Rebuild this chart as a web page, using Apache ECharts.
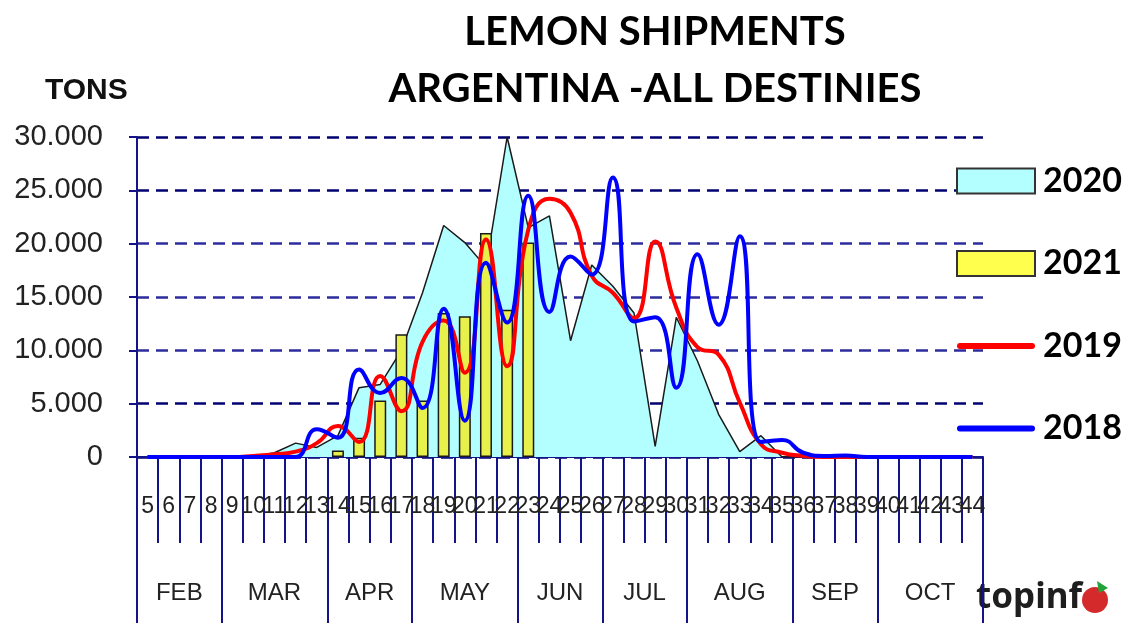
<!DOCTYPE html>
<html>
<head>
<meta charset="utf-8">
<script src="https://cdn.jsdelivr.net/npm/echarts@6/dist/echarts.min.js"></script>
<style>
    html, body { margin: 0; padding: 0; background: #fff; }
    #chart { width: 1125px; height: 623px; }
</style>
</head>
<body>
<div id="chart"></div>
<script>
// weeks 5..44
var weeks = ['5', '6', '7', '8', '9', '10', '11', '12', '13', '14', '15', '16', '17', '18', '19', '20',
    '21', '22', '23', '24', '25', '26', '27', '28', '29', '30', '31', '32', '33', '34', '35', '36',
    '37', '38', '39', '40', '41', '42', '43', '44']
var months = ['FEB', 'MAR', 'APR', 'MAY', 'JUN', 'JUL', 'AUG', 'SEP', 'OCT']
var monthWeeks = [4, 5, 4, 5, 4, 4, 5, 4, 5]
var yTicks = [0, 5000, 10000, 15000, 20000, 25000, 30000]

var ship2020 = [0, 0, 0, 0, 0, 0, 400, 1300, 900, 2000, 6500, 6800, 10000, 15400, 21700, 20100,
    17800, 30000, 21500, 22600, 10900, 18000, 16000, 13500, 1000, 13100, 9000, 4000, 500, 2000, 0, 0,
    0, 0, 0, 0, 0, 0, 0, 0]
var ship2021 = [null, null, null, null, null, null, null, null, null, 600, 1800, 5300, 11500, 5300, 13500, 13200,
    21000, 13800, 20100, null, null, null, null, null, null, null, null, null, null, null, null, null,
    null, null, null, null, null, null, null, null]
var ship2019 = [0, 0, 0, 0, 0, 100, 250, 500, 1300, 2900, 1400, 7600, 4300, 10800, 12800, 7900,
    20400, 8500, 21300, 24200, 22900, 17000, 15400, 13000, 20200, 14000, 10300, 9600, 5100, 1200, 400, 100,
    0, 0, 0, 0, 0, 0, 0, 0]
var ship2018 = [0, 0, 0, 0, 0, 0, 0, 0, 2600, 1800, 8200, 6000, 7400, 4600, 13900, 3400,
    18200, 12600, 24500, 13600, 18800, 17100, 26200, 12700, 13100, 6500, 19000, 12400, 20700, 1400, 1600, 400,
    100, 150, 0, 0, 0, 0, 0, 0]

// month separators and label positions on the week scale
var monthEdges = [0]
var monthCenters = []
monthWeeks.forEach(function (n, i) {
    var start = monthEdges[i]
    monthEdges.push(start + n)
    monthCenters.push(start + n / 2)
})

var navy = '#14148a'
// flat rounded bar used as legend icon for the line series
var lineIcon = 'path://M3,0 L75,0 A3,3 0 0 1 75,6 L3,6 A3,3 0 0 1 3,0 Z'

var myChart = echarts.init(document.getElementById('chart'))

myChart.setOption({
    animation: false,
    backgroundColor: '#fff',
    title: [
        {
            text: 'LEMON SHIPMENTS\nARGENTINA -ALL DESTINIES',
            left: 655,
            top: 4,
            padding: 0,
            textAlign: 'center',
            textStyle: { fontFamily: 'Lato', fontWeight: 'bold', fontSize: 40, lineHeight: 57, color: '#000' }
        },
        {
            text: 'TONS',
            left: 45,
            top: 76,
            padding: 0,
            textStyle: { fontFamily: 'Liberation Sans', fontWeight: 'bold', fontSize: 30, lineHeight: 30, color: '#111' }
        }
    ],
    legend: {
        orient: 'vertical',
        left: 956,
        top: 164,
        padding: 0,
        itemWidth: 78,
        itemHeight: 25,
        itemGap: 48.5,
        selectedMode: false,
        textStyle: { fontFamily: 'Lato', fontWeight: 'bold', fontSize: 34, lineHeight: 34, color: '#000', padding: [0, 0, 0, 3] },
        data: [
            { name: '2020', icon: 'rect', itemStyle: { color: '#b3ffff', borderColor: '#333', borderWidth: 2 } },
            { name: '2021', icon: 'rect', itemStyle: { color: '#ffff4d', borderColor: '#333', borderWidth: 2 } },
            { name: '2019', icon: lineIcon, itemStyle: { color: '#ff0000', borderWidth: 0 } },
            { name: '2018', icon: lineIcon, itemStyle: { color: '#0000ff', borderWidth: 0 } }
        ]
    },
    grid: { left: 137, top: 137, width: 846, height: 320, containLabel: false },
    xAxis: [
        {
            type: 'category',
            data: weeks,
            position: 'bottom',
            axisLine: { lineStyle: { color: navy, width: 2 } },
            axisTick: { show: true, interval: 0, length: 86, lineStyle: { color: navy, width: 2 } },
            axisLabel: { interval: 0, margin: 38, fontFamily: 'Liberation Sans', fontSize: 23, color: '#222' },
            splitLine: { show: false }
        },
        {
            type: 'value',
            min: 0,
            max: weeks.length,
            position: 'bottom',
            axisLine: { show: false },
            axisTick: { show: true, length: 166, customValues: monthEdges, lineStyle: { color: navy, width: 2 } },
            axisLabel: {
                customValues: monthCenters,
                margin: 124,
                fontFamily: 'Liberation Sans',
                fontSize: 24,
                color: '#222',
                formatter: function (v) {
                    return months[monthCenters.indexOf(v)]
                }
            },
            splitLine: { show: false }
        }
    ],
    yAxis: {
        type: 'value',
        min: yTicks[0],
        max: yTicks[yTicks.length - 1],
        interval: 5000,
        axisLine: { show: true, lineStyle: { color: navy, width: 2 } },
        axisTick: { show: true, length: 8, lineStyle: { color: navy, width: 2 } },
        axisLabel: {
            margin: 34,
            fontFamily: 'Liberation Sans',
            fontSize: 29,
            color: '#222',
            formatter: function (v) {
                return String(v).replace(/\B(?=(\d{3})+(?!\d))/g, '.')
            }
        },
        splitLine: {
            show: true,
            lineStyle: {
                color: ['#000070', '#000070', '#2c2c9c', '#2c2c9c', '#2c2c9c', '#000070', '#000070'],
                width: 2.5,
                type: [12, 7]
            }
        }
    },
    graphic: [
        {
            type: 'text',
            x: 976,
            y: 598,
            style: { text: 'topinf', font: 'bold 35px "Noto Sans"', fill: '#1e1e1e', verticalAlign: 'middle' }
        },
        { type: 'circle', shape: { cx: 1095, cy: 600, r: 13 }, style: { fill: '#d42a2c' } },
        { type: 'polygon', shape: { points: [[1097, 581], [1108, 588], [1099, 593]] }, style: { fill: '#22a33a' } }
    ],
    series: [
        {
            name: '2020',
            type: 'line',
            data: ship2020,
            symbol: 'none',
            smooth: false,
            z: 1,
            lineStyle: { color: '#1a1a1a', width: 1.5 },
            itemStyle: { color: '#b3ffff' },
            areaStyle: { color: '#b3ffff', opacity: 1 }
        },
        {
            name: '2021',
            type: 'bar',
            data: ship2021,
            barWidth: 12,
            z: 2,
            itemStyle: { color: '#e8f04c', borderColor: '#1a1a1a', borderWidth: 1.5 }
        },
        {
            name: '2019',
            type: 'line',
            data: ship2019,
            symbol: 'none',
            smooth: true,
            z: 3,
            lineStyle: { color: '#ff0000', width: 4 },
            itemStyle: { color: '#ff0000' }
        },
        {
            name: '2018',
            type: 'line',
            data: ship2018,
            symbol: 'none',
            smooth: true,
            z: 4,
            lineStyle: { color: '#0000ff', width: 4 },
            itemStyle: { color: '#0000ff' }
        }
    ]
})
</script>
</body>
</html>
